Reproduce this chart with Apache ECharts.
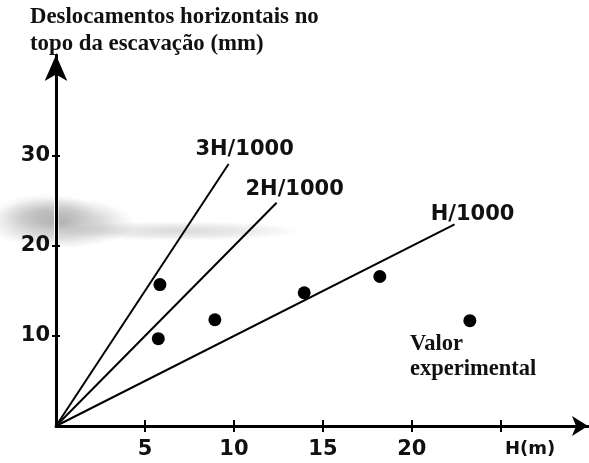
<!DOCTYPE html>
<html>
<head>
<meta charset="utf-8">
<script src="https://cdn.jsdelivr.net/npm/echarts@6/dist/echarts.min.js"></script>
<style>
  html, body { margin: 0; padding: 0; background: #fff; }
  #chart { width: 589px; height: 463px; background: #fff; }
</style>
</head>
<body>
<div id="chart"></div>
<script>
// Horizontal displacement at the top of the excavation vs. excavation depth H
const xTickValues = [5, 10, 15, 20, 25];
const xLabelValues = [5, 10, 15, 20];
const yTickValues = [10, 20, 30];

// Reference lines: displacement = factor * H / 1000 (H in m, displacement in mm)
const ratioLabels = ['3H/1000', '2H/1000', 'H/1000'];
const ratioFactors = [3, 2, 1];
const ratioEndH = [9.7, 12.4, 22.4];

// Measured values
const measuredH = [5.84, 5.75, 8.93, 13.95, 18.2, 23.26];
const measuredDisp = [15.7, 9.7, 11.8, 14.8, 16.6, 11.7];

const tickFont = { fontFamily: 'DejaVu Sans', fontWeight: 'bold', fontSize: 21, color: '#111' };
const labelOffsets = [[16, 1], [18, 2], [18, 6]];

const ratioSeries = ratioLabels.map((name, i) => ({
  type: 'line',
  name: name,
  data: [[0, 0], [ratioEndH[i], ratioFactors[i] * ratioEndH[i]]],
  showSymbol: false,
  symbol: 'none',
  lineStyle: { color: '#000', width: 2 },
  silent: true,
  z: 3,
  markPoint: {
    symbol: 'circle', symbolSize: 0,
    data: [{ coord: [ratioEndH[i], ratioFactors[i] * ratioEndH[i]] }],
    label: {
      show: true, position: 'top', formatter: name,
      offset: labelOffsets[i],
      fontFamily: 'DejaVu Sans', fontWeight: 'bold', fontSize: 21, color: '#111'
    }
  }
}));

const axisLineStyle = { color: '#000', width: 3 };

// soft grey blot: a radial gradient squashed into an ellipse, split in two
// pieces so that it leaves the vertical axis line uncovered
const AXIS_GAP = [54, 58.5];
function blot(cx, cy, r, sx, sy, alphaCore) {
  const stops = [
    { offset: 0, color: 'rgba(95,95,95,' + alphaCore + ')' },
    { offset: 0.55, color: 'rgba(115,115,115,' + (alphaCore * 0.6) + ')' },
    { offset: 1, color: 'rgba(140,140,140,0)' }
  ];
  const gapL = (AXIS_GAP[0] - cx) / sx;
  const gapR = (AXIS_GAP[1] - cx) / sx;
  const pieces = [];
  const leftEnd = Math.min(gapL, r);
  if (leftEnd > -r) pieces.push([-r, leftEnd]);
  const rightStart = Math.max(gapR, -r);
  if (rightStart < r) pieces.push([rightStart, r]);
  return pieces.map(([a, b]) => ({
    type: 'rect', z: -10, silent: true,
    x: cx, y: cy, scaleX: sx, scaleY: sy,
    shape: { x: a, y: -r, width: b - a, height: 2 * r },
    style: { fill: new echarts.graphic.RadialGradient(0, 0, r, stops, true) }
  }));
}

const chart = echarts.init(document.getElementById('chart'), null, { renderer: 'canvas' });
chart.setOption({
  animation: false,
  backgroundColor: '#fff',
  grid: { left: 56, right: 1, top: 55, bottom: 37 },
  xAxis: [{
    type: 'value', min: 0, max: 29.9,
    axisLine: { show: true, lineStyle: axisLineStyle, symbol: ['none', 'arrow'], symbolSize: [15, 16] },
    axisTick: { show: true, customValues: xTickValues, length: 6, lineStyle: { color: '#000', width: 2 } },
    axisLabel: Object.assign({ customValues: xLabelValues, margin: 13 }, tickFont),
    splitLine: { show: false }
  }, {
    type: 'value', min: 0, max: 29.9, position: 'bottom',
    axisLine: { show: false },
    axisTick: { show: true, inside: true, customValues: xTickValues, length: 6, lineStyle: { color: '#000', width: 2 } },
    axisLabel: { show: false },
    splitLine: { show: false }
  }],
  yAxis: [{
    type: 'value', min: 0, max: 41.2,
    axisLine: { show: true, lineStyle: axisLineStyle, symbol: ['none', 'arrow'], symbolSize: [17, 26] },
    axisTick: { show: true, customValues: yTickValues, length: 4, lineStyle: { color: '#000', width: 2 } },
    axisLabel: Object.assign({ customValues: yTickValues, margin: 6 }, tickFont),
    splitLine: { show: false }
  }, {
    type: 'value', min: 0, max: 41.2, position: 'left',
    axisLine: { show: false },
    axisTick: { show: true, inside: true, customValues: yTickValues, length: 4, lineStyle: { color: '#000', width: 2 } },
    axisLabel: { show: false },
    splitLine: { show: false }
  }],
  graphic: [].concat(
    // grey smear across the upper-left of the sheet
    blot(60, 223, 75, 1.0, 0.34, 0.45),
    blot(45, 212, 42, 1.2, 0.45, 0.22),
    blot(180, 231, 125, 1.0, 0.08, 0.24),
    [
      {
        type: 'text', left: 30, top: 4, z: 10,
        style: {
          text: 'Deslocamentos horizontais no\ntopo da escavação (mm)',
          font: 'bold 22.8px "Liberation Serif"', fill: '#111', lineHeight: 27
        }
      },
      {
        type: 'text', left: 410, top: 332, z: 10,
        style: {
          text: 'Valor\nexperimental',
          font: 'bold 22.5px "Liberation Serif"', fill: '#111', lineHeight: 25
        }
      },
      {
        type: 'text', left: 505, top: 440, z: 10,
        style: { text: 'H(m)', font: 'bold 18px "DejaVu Sans"', fill: '#111' }
      }
    ]
  ),
  series: ratioSeries.concat([{
    type: 'scatter',
    name: 'Valor experimental',
    data: measuredH.map((h, i) => [h, measuredDisp[i]]),
    symbol: 'circle',
    symbolSize: 13,
    itemStyle: { color: '#000', opacity: 1 },
    z: 4
  }])
});
</script>
</body>
</html>
